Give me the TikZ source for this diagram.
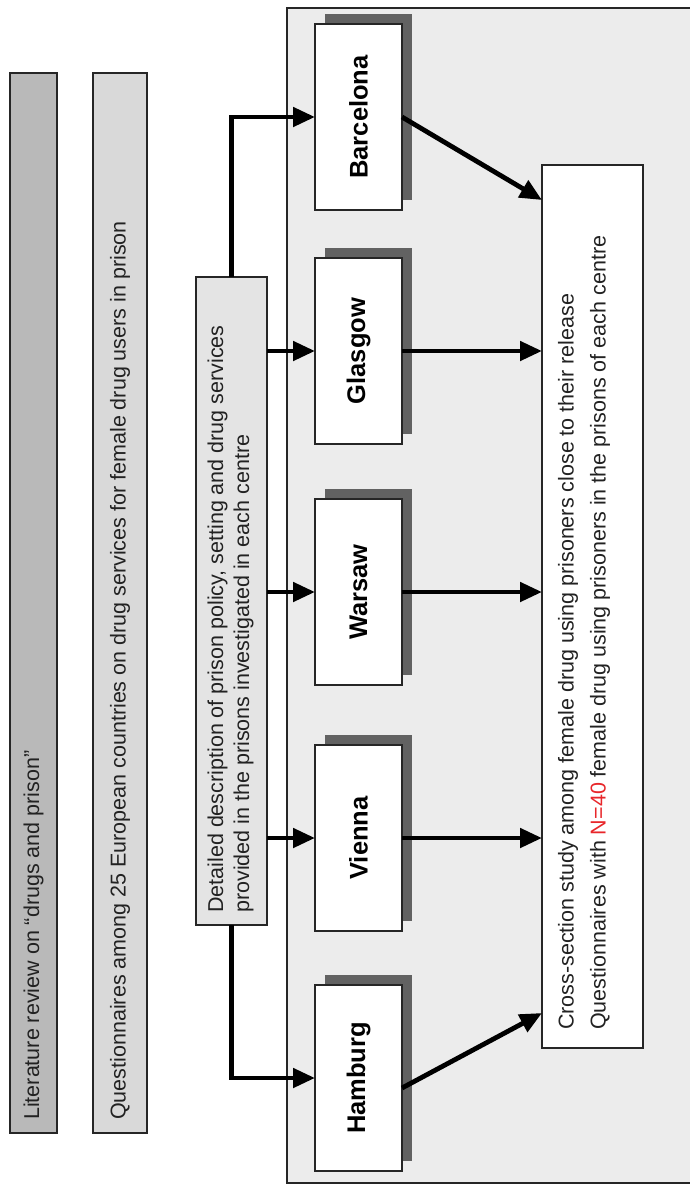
\documentclass[tikz,border=0pt]{standalone}
\usepackage{fontspec}
\setmainfont{Liberation Sans}
\usetikzlibrary{arrows.meta,calc}
\definecolor{litfill}{HTML}{B9B9B9}
\definecolor{qfill}{HTML}{D9D9D9}
\definecolor{panelfill}{HTML}{ECECEC}
\definecolor{descfill}{HTML}{E4E4E4}
\definecolor{shadowc}{HTML}{626262}
\definecolor{txtc}{HTML}{222222}
\definecolor{nred}{HTML}{E8262A}
\newcommand{\cityname}[1]{\rotatebox{90}{\fontsize{25.5}{28}\selectfont\bfseries #1}}
\begin{document}
\begin{tikzpicture}[x=1pt,y=-1pt,
  box/.style={draw=black!85, line width=1.4pt, inner sep=0pt, outer sep=0pt},
  citybox/.style={box, fill=white, minimum width=87pt, minimum height=186pt},
  txt/.style={text=txtc, inner sep=0pt, font=\fontsize{21.5}{26}\selectfont},
  arr/.style={line width=4.8pt, -{Triangle[length=22pt,width=19pt]}, draw=black}
]
\useasboundingbox (0,0) rectangle (689,1186);
\fill[white] (0,0) rectangle (689,1186);

% left bars
\node[box, fill=litfill, minimum width=47pt, minimum height=1060pt] (lit) at (33.5,603) {};
\node[box, fill=qfill, minimum width=54pt, minimum height=1060pt] (quest) at (120,603) {};
\node[txt, rotate=90, anchor=west] (littxt) at (33.5,1120) {Literature review on “drugs and prison”};
\node[txt, rotate=90, anchor=west] (questtxt) at (120,1120) {Questionnaires among 25 European countries on drug services for female drug users in prison};

% panel
\node[box, fill=panelfill, minimum width=406pt, minimum height=1175pt] (panel) at (490,595.5) {};

% description box
\node[box, fill=descfill, minimum width=71pt, minimum height=648pt] (desc) at (231.5,601) {};
\node[txt, rotate=90, anchor=west, align=left] (desctxt) at (230.5,913)
  {Detailed description of prison policy, setting and drug services\\provided in the prisons investigated in each centre};

% shadows of the city boxes (offset 10 right, 10 up)
\foreach \yy in {117, 351, 592, 838, 1078}{
  \fill[shadowc] (358.5,\yy) ++(-33.5pt,-83pt) rectangle ++(87pt,186pt);
}
% city boxes
\node[citybox] (bcn) at (358.5,117) {\cityname{Barcelona}};
\node[citybox] (gla) at (358.5,351) {\cityname{Glasgow}};
\node[citybox] (war) at (358.5,592) {\cityname{Warsaw}};
\node[citybox] (vie) at (358.5,838) {\cityname{Vienna}};
\node[citybox] (ham) at (358.5,1078) {\cityname{Hamburg}};

% cross-section box
\node[box, fill=white, minimum width=101pt, minimum height=883pt] (cs) at (592.5,606.5) {};
\node[txt, rotate=90, anchor=west, align=left, font=\fontsize{21.5}{32}\selectfont] (cstxt) at (584,1030)
  {Cross-section study among female drug using prisoners close to their release\\Questionnaires with \textcolor{nred}{N=40} female drug using prisoners in the prisons of each centre};

\coordinate (tb) at (542,200);
\coordinate (th) at (542,1013);

% arrows from description
\draw[arr] (desc.north) |- (bcn.west);
\draw[arr] (desc.east |- gla.west) -- (gla.west);
\draw[arr] (desc.east |- war.west) -- (war.west);
\draw[arr] (desc.east |- vie.west) -- (vie.west);
\draw[arr] (desc.south) |- (ham.west);

% arrows to cross-section
\draw[arr] (bcn.east) -- (tb);
\draw[arr] (gla.east) -- (gla.east -| cs.west);
\draw[arr] (war.east) -- (war.east -| cs.west);
\draw[arr] (vie.east) -- (vie.east -| cs.west);
\draw[arr] ([yshift=-10pt]ham.east) -- (th);
\end{tikzpicture}
\end{document}
